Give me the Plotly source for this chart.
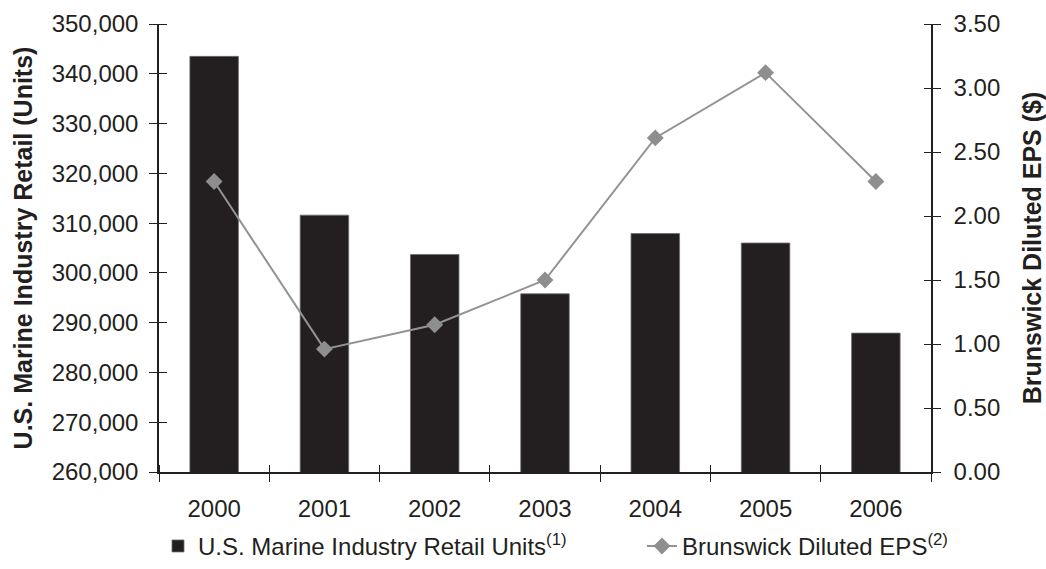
import plotly.graph_objects as go

years = ["2000", "2001", "2002", "2003", "2004", "2005", "2006"]
retail_units = [343500, 311600, 303700, 295800, 307900, 306000, 287900]
diluted_eps = [2.27, 0.96, 1.15, 1.50, 2.61, 3.12, 2.27]

units_ticks = [260000, 270000, 280000, 290000, 300000, 310000, 320000, 330000, 340000, 350000]
eps_ticks = [0, 0.5, 1.0, 1.5, 2.0, 2.5, 3.0, 3.5]

INK = "#231f20"
GREY = "#939393"
FONT = "Liberation Sans, Arial, Helvetica, sans-serif"

PLOT_W = 1046 - 159 - 115
PLOT_H = 569 - 24 - 97
TL = 8
TW = 1.3

fig = go.Figure()

fig.add_trace(go.Bar(
    x=years, y=retail_units,
    name="U.S. Marine Industry Retail Units<sup>(1)</sup>",
    marker=dict(color=INK, line=dict(color="#6d6d6d", width=0.8)),
    xaxis="x", yaxis="y", legend="legend",
))

fig.add_trace(go.Scatter(
    x=years, y=diluted_eps,
    name="Brunswick Diluted EPS<sup>(2)</sup>",
    mode="lines+markers",
    line=dict(color=GREY, width=2),
    marker=dict(symbol="diamond", size=13, color="#8e8e8e"),
    xaxis="x", yaxis="y2", legend="legend2",
))

# invisible helper traces so the overlay axes (inner half of crossing ticks) are drawn
helper = dict(mode="markers", marker=dict(opacity=0, size=1), showlegend=False, hoverinfo="skip")
fig.add_trace(go.Scatter(x=years, y=retail_units, xaxis="x2", yaxis="y", **helper))
fig.add_trace(go.Scatter(x=years, y=retail_units, xaxis="x", yaxis="y3", **helper))
fig.add_trace(go.Scatter(x=years, y=diluted_eps, xaxis="x", yaxis="y4", **helper))

tickfont = dict(family=FONT, size=24, color=INK)
titlefont = dict(family=FONT, size=25, color=INK, weight="bold")
legfont = dict(family=FONT, size=24, color=INK)

LEG_Y = -0.166

fig.update_layout(
    width=1046, height=569,
    margin=dict(l=159, r=115, t=24, b=97, autoexpand=False),
    paper_bgcolor="white", plot_bgcolor="white",
    bargap=0.56,
    showlegend=True,
    legend=dict(orientation="h", x=-0.0013, xanchor="left", y=LEG_Y, yanchor="middle",
                font=legfont, bgcolor="rgba(0,0,0,0)"),
    legend2=dict(orientation="h", x=0.6256, xanchor="left", y=LEG_Y, yanchor="middle",
                 font=legfont, bgcolor="rgba(0,0,0,0)"),
    xaxis=dict(
        type="category", categoryorder="array", categoryarray=years,
        range=[-0.5, 6.5], tickson="boundaries",
        ticks="outside", ticklen=TL, tickwidth=TW, tickcolor=INK,
        showline=True, linecolor=INK, linewidth=1.5,
        showgrid=False, zeroline=False, tickfont=tickfont,
        ticklabelstandoff=14, anchor="y",
    ),
    xaxis2=dict(
        type="category", categoryorder="array", categoryarray=years,
        range=[-0.5, 6.5], tickson="boundaries", overlaying="x",
        anchor="free", position=TL / PLOT_H, side="bottom",
        ticks="outside", ticklen=TL, tickwidth=TW, tickcolor=INK,
        showticklabels=False, showline=False, showgrid=False, zeroline=False,
    ),
    yaxis=dict(
        range=[260000, 350000], tickvals=units_ticks, tickformat=",",
        ticks="outside", ticklen=TL, tickwidth=TW, tickcolor=INK,
        showline=True, linecolor=INK, linewidth=1.5,
        showgrid=False, zeroline=False, tickfont=tickfont,
        title=dict(text="U.S. Marine Industry Retail (Units)", font=titlefont, standoff=12),
        ticklabelstandoff=6,
    ),
    yaxis2=dict(
        range=[0, 3.5], tickvals=eps_ticks, tickformat=".2f",
        overlaying="y", side="right", anchor="x",
        ticks="outside", ticklen=TL, tickwidth=TW, tickcolor=INK,
        showline=True, linecolor=INK, linewidth=1.5,
        showgrid=False, zeroline=False, tickfont=tickfont,
        title=dict(text="Brunswick Diluted EPS ($)", font=titlefont, standoff=30),
        ticklabelstandoff=8,
    ),
    yaxis3=dict(
        range=[260000, 350000], tickvals=units_ticks, overlaying="y", side="left",
        anchor="free", position=TL / PLOT_W,
        ticks="outside", ticklen=TL, tickwidth=TW, tickcolor=INK,
        showticklabels=False, showline=False, showgrid=False, zeroline=False,
    ),
    yaxis4=dict(
        range=[0, 3.5], tickvals=eps_ticks, overlaying="y", side="right",
        anchor="free", position=1 - TL / PLOT_W,
        ticks="outside", ticklen=TL, tickwidth=TW, tickcolor=INK,
        showticklabels=False, showline=False, showgrid=False, zeroline=False,
    ),
)

fig.write_html("out.html")
